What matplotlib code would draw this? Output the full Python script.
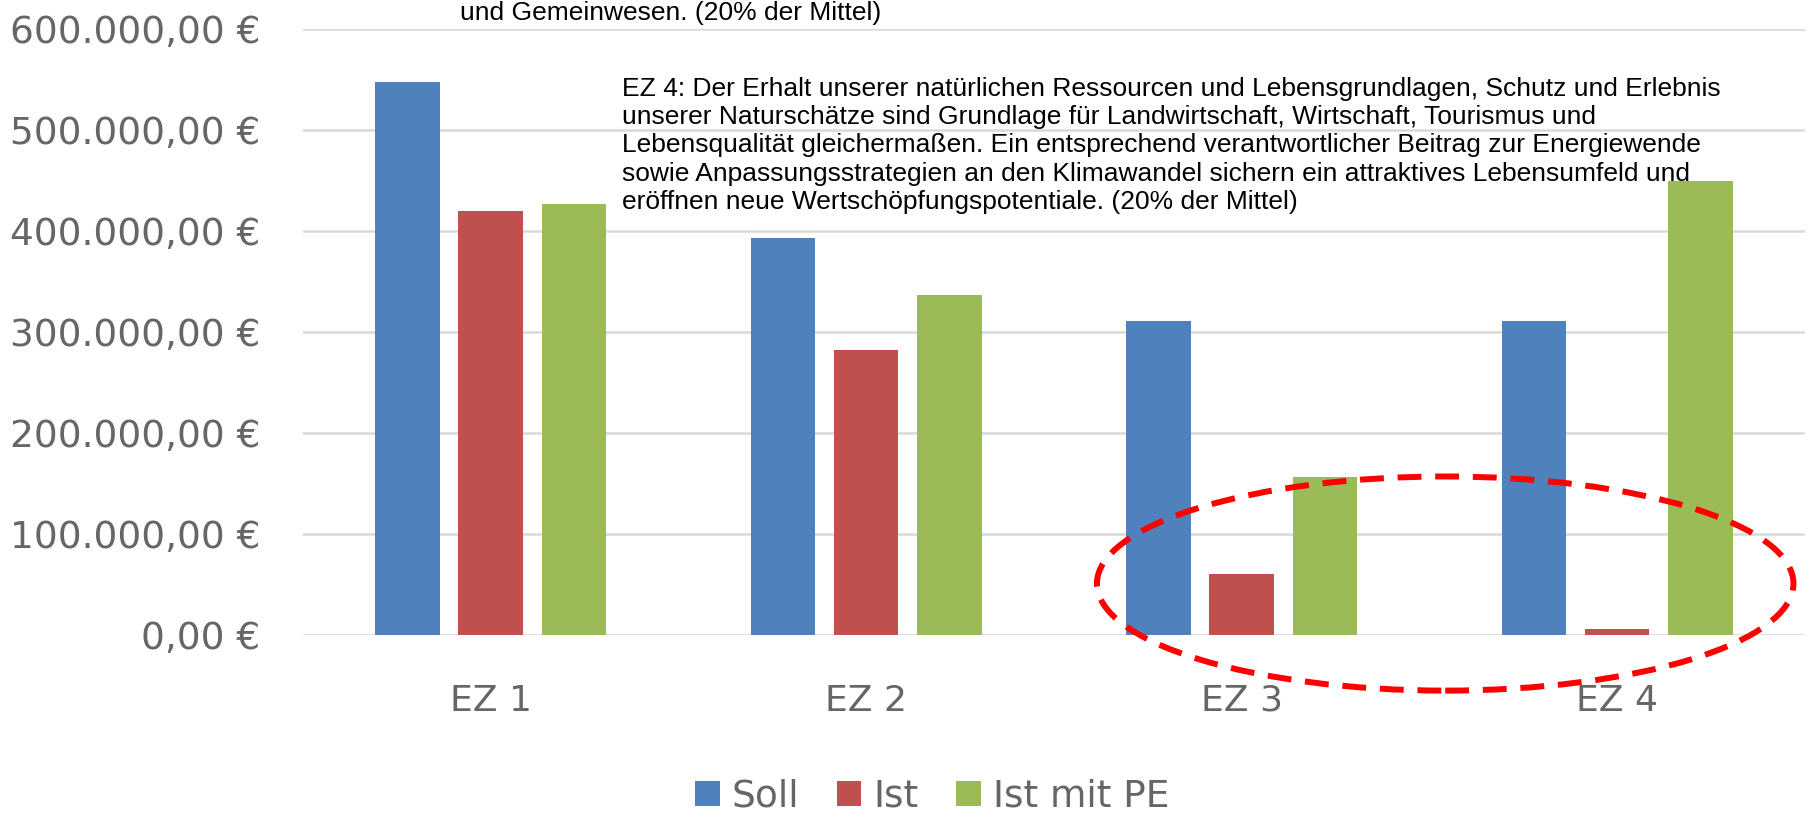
import matplotlib
matplotlib.use('Agg')
import matplotlib.pyplot as plt
import numpy as np
from matplotlib.patches import Ellipse
from matplotlib.ticker import FuncFormatter

categories = ['EZ 1', 'EZ 2', 'EZ 3', 'EZ 4']
soll = [548000, 393000, 311000, 311000]
ist = [420000, 282000, 60000, 6000]
ist_pe = [427000, 337000, 156000, 450000]
series_names = ['Soll', 'Ist', 'Ist mit PE']
yticks = [0, 100000, 200000, 300000, 400000, 500000, 600000]

note_top = 'und Gemeinwesen. (20% der Mittel)'
note_ez4 = ('EZ 4: Der Erhalt unserer natürlichen Ressourcen und Lebensgrundlagen, Schutz und Erlebnis\n'
            'unserer Naturschätze sind Grundlage für Landwirtschaft, Wirtschaft, Tourismus und\n'
            'Lebensqualität gleichermaßen. Ein entsprechend verantwortlicher Beitrag zur Energiewende\n'
            'sowie Anpassungsstrategien an den Klimawandel sichern ein attraktives Lebensumfeld und\n'
            'eröffnen neue Wertschöpfungspotentiale. (20% der Mittel)')

colors = ['#4f81bd', '#c0504d', '#9bbb59']
grey = '#666666'

def euro(v, pos):
    s = '{:,.2f}'.format(v).replace(',', 'X').replace('.', ',').replace('X', '.')
    return s + ' €'

fig = plt.figure(figsize=(18.14, 8.17), dpi=100)
ax = fig.add_axes([0.167, 0.2227, 0.828, 0.7418])

x = np.arange(len(categories))
w = 0.172
step = 0.222
for i, vals in enumerate([soll, ist, ist_pe]):
    ax.bar(x + (i - 1) * step, vals, w, color=colors[i], label=series_names[i], zorder=3)

ax.set_xlim(-0.5, 3.5)
ax.set_ylim(0, 600000)
ax.set_yticks(yticks)
ax.yaxis.set_major_formatter(FuncFormatter(euro))
ax.set_xticks(x)
ax.set_xticklabels(categories)
ax.grid(axis='y', color='#d9d9d9', linewidth=1.8, zorder=0)
for sp in ax.spines.values():
    sp.set_visible(False)
ax.tick_params(axis='y', length=0, pad=31, labelsize=27, labelcolor=grey)
ax.tick_params(axis='x', length=0, pad=35, labelsize=26, labelcolor=grey)

# dashed ellipse around EZ 3 / EZ 4 base
ell = Ellipse((2.542, 51000), 1.855, 212000, fill=False, edgecolor='#ff0000',
              linewidth=4.3, linestyle=(0, (4, 2.3)), clip_on=False, zorder=5)
ax.add_patch(ell)

fig.text(460 / 1814, 1 - 13 / 817, note_top, fontsize=19, family='Liberation Sans',
         va='center', ha='left')
fig.text(622 / 1814, 1 - 77 / 817, note_ez4, fontsize=19, family='Liberation Sans',
         va='top', ha='left', linespacing=1.22)

leg = fig.legend(loc='center', bbox_to_anchor=(0.514, 0.025), ncol=3, frameon=False,
                 fontsize=27, handlelength=0.65, handleheight=0.65, handletextpad=0.33,
                 columnspacing=1.0)
for t in leg.get_texts():
    t.set_color(grey)

fig.savefig('out.png', dpi=100)
